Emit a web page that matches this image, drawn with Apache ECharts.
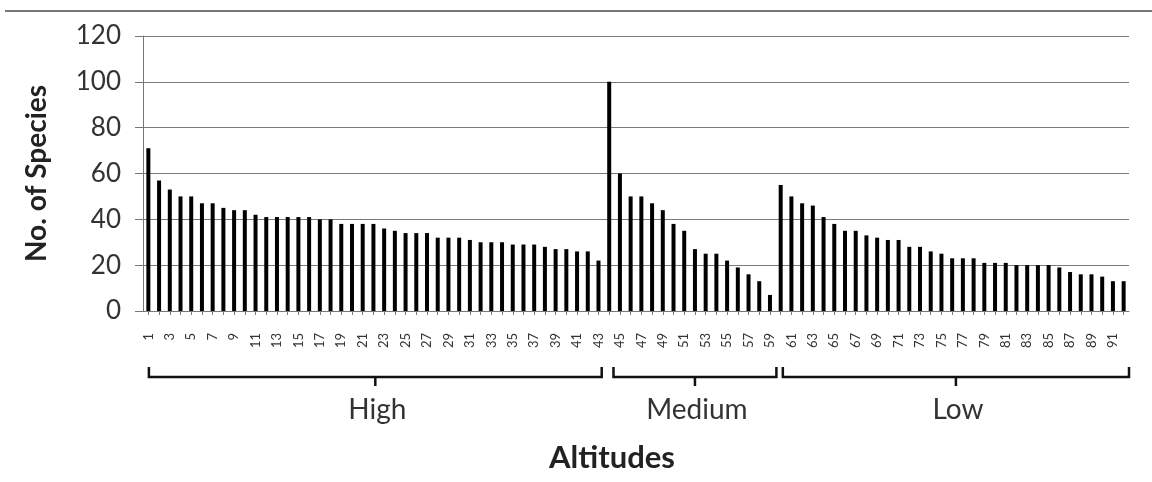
<!DOCTYPE html>
<html>
<head>
<meta charset="utf-8">
<script src="https://cdn.jsdelivr.net/npm/echarts@6/dist/echarts.min.js"></script>
<style>
html,body{margin:0;padding:0;background:#fff;}
#main{width:1152px;height:482px;}
</style>
</head>
<body>
<div id="main"></div>
<script>
// Category labels 1..92 (sites)
var categories = ['1','2','3','4','5','6','7','8','9','10','11','12','13','14','15','16','17','18','19','20','21','22','23','24','25','26','27','28','29','30','31','32','33','34','35','36','37','38','39','40','41','42','43','44','45','46','47','48','49','50','51','52','53','54','55','56','57','58','59','60','61','62','63','64','65','66','67','68','69','70','71','72','73','74','75','76','77','78','79','80','81','82','83','84','85','86','87','88','89','90','91','92'];

// Number of species per site
var speciesHigh = [71,57,53,50,50,47,47,45,44,44,42,41,41,41,41,41,40,40,38,38,38,38,
                   36,35,34,34,34,32,32,32,31,30,30,30,29,29,29,28,27,27,26,26,22];
var speciesMedium = [100,60,50,50,47,44,38,35,27,25,25,22,19,16,13,7];
var speciesLow = [55,50,47,46,41,38,35,35,33,32,31,31,28,28,26,25,23,23,23,21,21,21,20,20,20,20,19,17,16,16,15,13,13];
var values = speciesHigh.concat(speciesMedium, speciesLow);

// Y-axis ticks
var yTicks = [0,20,40,60,80,100,120];

// Altitude groups: bracket start/end in category units
var groupNames = ['High','Medium','Low'];
var groupFrom = [1.05, 44.4, 60.2];
var groupTo = [43.3, 59.6, 92.5];

var chart = echarts.init(document.getElementById('main'));
var font = 'Lato, "Open Sans", sans-serif';
chart.setOption({
  animation: false,
  backgroundColor: '#fff',
  grid: {left: 143, right: 23, top: 36, bottom: 171},
  xAxis: {
    type: 'category',
    data: categories,
    boundaryGap: true,
    axisLine: {lineStyle: {color: '#777', width: 1}},
    axisTick: {show: true, interval: 0, length: 4, alignWithLabel: true, lineStyle: {color: '#777'}},
    axisLabel: {interval: 1, rotate: 90, margin: 22, fontSize: 13, color: '#333', fontFamily: font},
    splitLine: {show: false}
  },
  yAxis: {
    type: 'value',
    min: yTicks[0],
    max: yTicks[yTicks.length - 1],
    interval: 20,
    axisLine: {show: true, lineStyle: {color: '#777', width: 1}},
    axisTick: {show: true, length: 8, lineStyle: {color: '#777'}},
    axisLabel: {fontSize: 26, color: '#333', margin: 22, fontFamily: font},
    splitLine: {show: true, lineStyle: {color: '#7a7a7a', width: 1}},
    name: 'No. of Species',
    nameLocation: 'middle',
    nameGap: 92,
    nameRotate: 90,
    nameTextStyle: {fontSize: 28, fontWeight: 'bold', color: '#222', fontFamily: font}
  },
  series: [{
    type: 'bar',
    data: values,
    barWidth: 4,
    itemStyle: {color: '#000'}
  }]
});

function drawBrackets() {
  var x0 = chart.convertToPixel({xAxisIndex: 0}, categories[0]);
  var x1 = chart.convertToPixel({xAxisIndex: 0}, categories[1]);
  var step = x1 - x0;
  function px(v) { return x0 + (v - 1) * step; }
  var yLine = 377, yHook = 367, yTip = 386;
  var els = [];
  for (var i = 0; i < groupNames.length; i++) {
    var a = px(groupFrom[i]), b = px(groupTo[i]), m = (a + b) / 2;
    els.push({
      type: 'polyline',
      shape: {points: [[a, yHook], [a, yLine], [b, yLine], [b, yHook]]},
      style: {stroke: '#111', lineWidth: 2.5, fill: null}
    });
    els.push({
      type: 'line',
      shape: {x1: m, y1: yLine, x2: m, y2: yTip},
      style: {stroke: '#111', lineWidth: 2.5}
    });
    els.push({
      type: 'text',
      x: m + 2, y: 410,
      style: {text: groupNames[i], font: '28px ' + font, fill: '#333', align: 'center', verticalAlign: 'middle'}
    });
  }
  els.push({
    type: 'text',
    x: 612, y: 458,
    style: {text: 'Altitudes', font: 'bold 31px ' + font, fill: '#222', align: 'center', verticalAlign: 'middle'}
  });
  els.push({
    type: 'line',
    shape: {x1: 5, y1: 11, x2: 1152, y2: 11},
    style: {stroke: '#777', lineWidth: 2}
  });
  chart.setOption({graphic: els});
}
drawBrackets();
</script>
</body>
</html>
